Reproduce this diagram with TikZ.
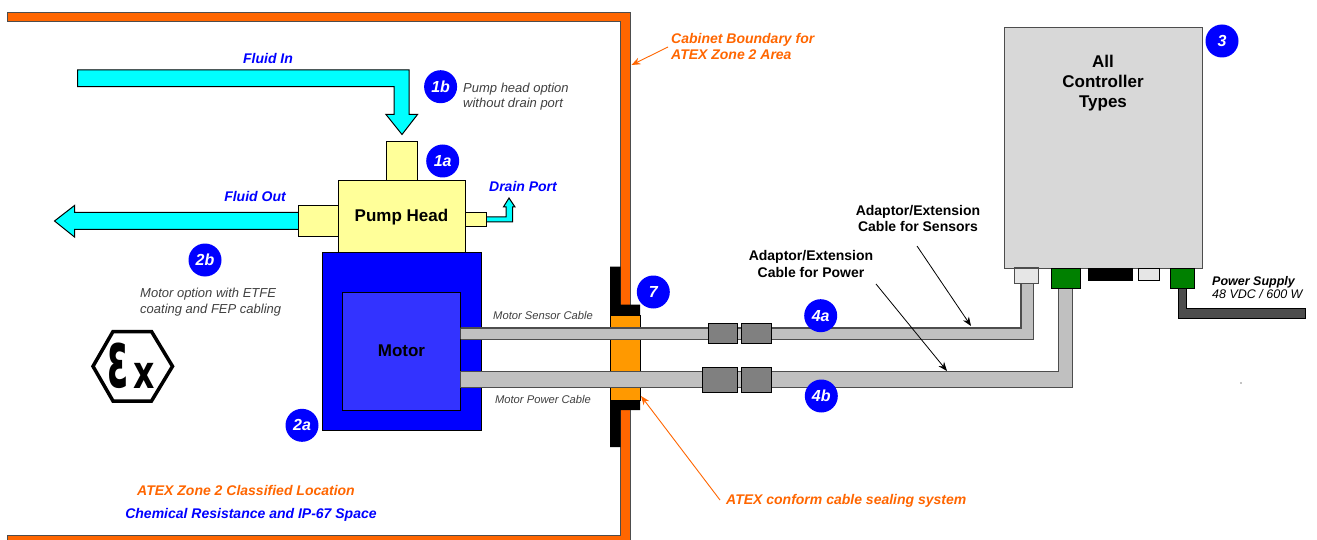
\documentclass[tikz,border=0pt]{standalone}
\usepackage{fontspec}
\setmainfont{Liberation Sans}
\newfontfamily\exfont{DejaVu Sans}
\usetikzlibrary{arrows.meta}
\definecolor{wallor}{HTML}{FF6600}
\definecolor{plugor}{HTML}{FF9900}
\definecolor{fluidc}{HTML}{00FFFF}
\definecolor{pumpy}{HTML}{FFFF99}
\definecolor{motorin}{HTML}{3333FF}
\definecolor{cablec}{HTML}{C0C0C0}
\definecolor{connc}{HTML}{808080}
\definecolor{darkc}{HTML}{4D4D4D}
\definecolor{ctrlc}{HTML}{D8D8D8}
\definecolor{portc}{HTML}{E6E6E6}
\definecolor{greenc}{HTML}{008000}
\definecolor{notec}{HTML}{404040}
\newcommand{\fs}[1]{\fontsize{#1}{#1}\selectfont}
\tikzset{
  shape line/.style={draw=black,line width=1pt,line join=miter},
  badge/.style={circle,fill=blue,draw=none,minimum size=33pt,inner sep=0pt,text=white,font=\fs{16}\bfseries\itshape},
  bluelabel/.style={inner sep=0pt,text=blue,font=\fs{14}\bfseries\itshape},
  orangelabel/.style={inner sep=0pt,text=wallor,font=\fs{14}\bfseries\itshape,align=left},
  blacklabel/.style={inner sep=0pt,text=black,font=\fs{14}\bfseries,align=center},
  notelabel/.style={inner sep=0pt,text=notec,font=\fs{13}\itshape,align=left},
  cablelabel/.style={inner sep=0pt,text=notec,font=\fs{11.2}\itshape},
  orangearrow/.style={draw=wallor,line width=0.9pt,-{Stealth[length=9pt,width=7pt]}},
  blackarrow/.style={draw=black,line width=0.8pt,-{Stealth[length=9pt,width=7pt]}},
}
\begin{document}
\begin{tikzpicture}[x=1pt,y=-1pt]
\useasboundingbox (0,0) rectangle (1317,540);
\clip (0,0) rectangle (1317,540);
\fill[white] (0,0) rectangle (1317,540);
% wall
\draw[shape line,fill=wallor,draw=darkc] (7,12.5) -- (630,12.5) -- (630,545) -- (7,545) -- (7,535) -- (620,535) -- (620,21.5) -- (7,21.5) -- cycle;
% fluid in
\draw[shape line,fill=fluidc] (77.5,70) -- (409,70) -- (409,114.5) -- (417.5,114.5) -- (402,134.5) -- (386,114.5) -- (394,114.5) -- (394,86.7) -- (77.5,86.7) -- cycle;
% fluid out
\draw[shape line,fill=fluidc] (300,212.5) -- (74.5,212.5) -- (74.5,205.5) -- (54.5,221) -- (74.5,237) -- (74.5,229.5) -- (300,229.5) -- cycle;
% drain
\draw[shape line,fill=fluidc] (484,217) -- (506,217) -- (506,207) -- (503.4,207) -- (509,198) -- (515,207) -- (512.6,207) -- (512.6,222) -- (484,222) -- cycle;
% motor
\draw[shape line,fill=blue] (322.5,252) rectangle (481,430);
\draw[shape line,fill=motorin] (342.5,292) rectangle (460.5,410);
% pump
\draw[shape line,fill=pumpy] (386,141.5) rectangle (417.5,181);
\draw[shape line,fill=pumpy] (298.5,205.5) rectangle (338,237);
\draw[shape line,fill=pumpy] (465,212.5) rectangle (486,227);
\draw[shape line,fill=pumpy] (338,181) rectangle (465,252);
% seal
\fill[black] (610,266.7) -- (620.5,266.7) -- (620.5,304.7) -- (640,304.7) -- (640,315) -- (610,315) -- cycle;
\fill[black] (610,447) -- (620.5,447) -- (620.5,410) -- (640,410) -- (640,400) -- (610,400) -- cycle;
\draw[shape line,fill=plugor] (610.5,315) rectangle (640,400);
% controller
\draw[draw=darkc,line width=1pt,fill=ctrlc] (1004,27.5) rectangle (1202,268);
\draw[draw=black,line width=1pt,fill=black] (1088.7,268) rectangle (1132.7,280.5);
\draw[shape line,fill=portc] (1138.7,268) rectangle (1159.3,280.5);
% sensor cable
\fill[cablec] (460.5,327.5) -- (1021,327.5) -- (1021,283) -- (1033,283) -- (1033,339) -- (460.5,339) -- cycle;
\draw[darkc,line width=2.2pt] (460.5,328) -- (1021,328) -- (1021,283);
\draw[darkc,line width=1pt] (460.5,339) -- (1033,339) -- (1033,283);
% power cable
\draw[draw=darkc,line width=1pt,fill=cablec] (460.5,371.5) -- (1058.3,371.5) -- (1058.3,288) -- (1072.3,288) -- (1072.3,387) -- (460.5,387) -- cycle;
% supply cable
\draw[draw=black,line width=1pt,fill=darkc] (1178,288) -- (1186.7,288) -- (1186.7,308) -- (1305.5,308) -- (1305.5,318.3) -- (1178,318.3) -- cycle;
% ports
\draw[draw=darkc,line width=1.3pt,fill=portc] (1014.3,268) rectangle (1038.3,283.3);
\draw[shape line,fill=greenc] (1051,268) rectangle (1080.7,288.3);
\draw[shape line,fill=greenc] (1170.3,268) rectangle (1194.7,288.3);
% connectors
\draw[shape line,fill=connc] (708.3,323.3) rectangle (737,343.3);
\draw[shape line,fill=connc] (741.3,323.3) rectangle (771,343.3);
\draw[shape line,fill=connc] (702.3,367.3) rectangle (737,392.7);
\draw[shape line,fill=connc] (741.3,367.3) rectangle (771.7,392.7);
% badges
\node[badge] (b1b) at (440.6,86.7) {1b};
\node[badge] (b1a) at (442.7,161) {1a};
\node[badge] (b2b) at (205,260) {2b};
\node[badge] (b2a) at (302,425.3) {2a};
\node[badge] (b7) at (653.3,292) {7};
\node[badge] (b4a) at (820.7,315.7) {4a};
\node[badge] (b4b) at (821.3,396) {4b};
\node[badge] (b3) at (1222,41) {3};
% labels
\node[bluelabel] (fin) at (268,58.5) {Fluid In};
\node[bluelabel] (fout) at (255,196.5) {Fluid Out};
\node[bluelabel] (dport) at (523,186) {Drain Port};
\node[inner sep=0pt,font=\fs{17}\bfseries] (phead) at (401.5,217) {Pump Head};
\node[inner sep=0pt,font=\fs{17}\bfseries] (mot) at (401.5,350.5) {Motor};
\node[notelabel,anchor=west] (n1) at (463,96.5) {Pump head option\\[2pt]without drain port};
\node[notelabel,anchor=west] (n2) at (140,302.5) {Motor option with ETFE\\[3pt]coating and FEP cabling};
\node[cablelabel] (ms) at (543,315) {Motor Sensor Cable};
\node[cablelabel] (mp) at (543,399) {Motor Power Cable};
\node[orangelabel] (zone) at (246,490.5) {ATEX Zone 2 Classified Location};
\node[bluelabel] (chem) at (251,515) {Chemical Resistance and IP-67 Space};
\node[orangelabel,anchor=west] (cab) at (671,46.5) {Cabinet Boundary for\\[2.5pt]ATEX Zone 2 Area};
\node[orangelabel,anchor=west] (seal) at (726,501) {ATEX conform cable sealing system};
\node[blacklabel] (as) at (918,218.5) {Adaptor/Extension\\[2.5pt]Cable for Sensors};
\node[blacklabel] (ap) at (811,264) {Adaptor/Extension\\[3pt]Cable for Power};
\node[inner sep=0pt,align=center,font=\fs{17}\bfseries] (ctrl) at (1103,83) {All\\[3pt]Controller\\[3pt]Types};
\node[inner sep=0pt,anchor=west,align=left,font=\fs{12.5}\itshape] (ps) at (1212,287.5) {\textbf{Power Supply}\\48 VDC / 600 W};
% Ex mark
\draw[black,line width=3.5pt,line join=miter] (93,366.3) -- (113,331.5) -- (151.5,331.5) -- (172.5,366.3) -- (151.5,401) -- (113,401) -- cycle;
\node[inner sep=0pt,font=\exfont\bfseries\fs{56}] (exe) at (118.5,365.5) {\scalebox{0.68}[1.42]{ε}};
\node[inner sep=0pt,font=\exfont\bfseries\fs{46}] (exx) at (144,375.5) {\scalebox{0.72}[1]{x}};
% leader arrows
\coordinate (tc) at (631.5,65);
\coordinate (ts) at (641,396);
\coordinate (ta) at (971,326);
\coordinate (tb) at (947,371);
\draw[orangearrow] (668,47) -- (tc);
\draw[orangearrow] (720,500) -- (ts);
\draw[blackarrow] (917,246) -- (ta);
\draw[blackarrow] (876,284) -- (tb);
\fill[black] (1241,383) circle (0.6);
\end{tikzpicture}
\end{document}
